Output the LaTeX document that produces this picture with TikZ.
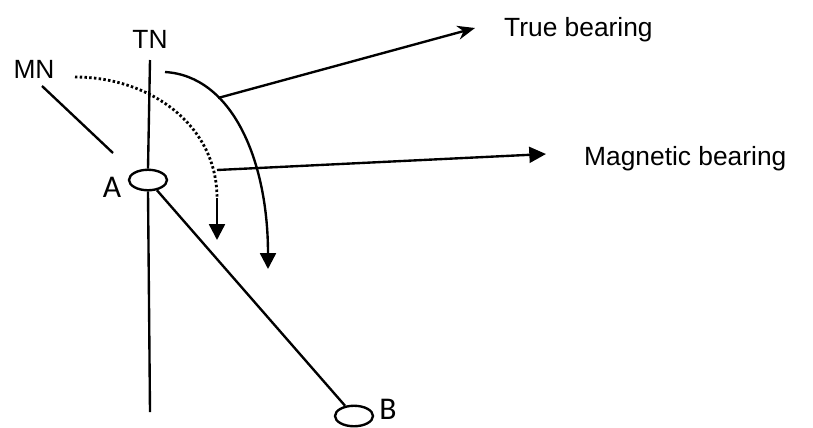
\documentclass[tikz,border=0pt]{standalone}
\usepackage{fontspec}
\setmainfont{Liberation Sans}
\newfontfamily\ptfont{Carlito}
\usetikzlibrary{arrows.meta,shapes.geometric}

\tikzset{
  lbl/.style={anchor=base,inner sep=0pt,font=\fontsize{15}{17}\selectfont},
  ptlbl/.style={anchor=base,inner sep=0pt,font=\ptfont\fontsize{18}{20}\selectfont},
  stn/.style={ellipse,draw,fill=white,minimum width=0.76cm,minimum height=0.41cm,inner sep=0pt},
  bigtip/.style={-{Triangle[length=9pt,width=9pt]}}
}

\begin{document}
\begin{tikzpicture}[x=0.02cm,y=-0.02cm,line width=1.35pt]
\useasboundingbox (0,0) rectangle (813,427);
% north lines and labels
\node[lbl] (tn) at (150,48) {TN};
\node[lbl] (mn) at (34,78) {MN};
\coordinate (tntop) at (150,60);
\coordinate (tnbot) at (150,412);
\coordinate (mntop) at (42,86);
\coordinate (mnbot) at (113,153);
\draw (mntop) -- (mnbot);
% stations
\node[stn] (a) at (148,180) {};
\node[stn] (b) at (354,416) {};
\node[ptlbl] (alab) at (112,197) {A};
\node[ptlbl] (blab) at (388,419) {B};
\draw (tntop) -- (a.north);
\draw (a.south) -- (tnbot);
\draw (a) -- (b);
% bearing arcs
\draw[line width=1.6pt,dash pattern=on 1.4pt off 1.3pt] (75,77) .. controls (150,77) and (217,125) .. (217,198);
\draw[bigtip] (217,198) -- (217,240);
\draw[bigtip] (165,72) .. controls (232,76) and (268,160) .. (268,269);
% labels
\node[lbl,anchor=base west] (true) at (503,36) {True bearing};
\node[lbl,anchor=base west] (mag) at (583,165) {Magnetic bearing};
\coordinate (tb) at (218,98);
\coordinate (tbtip) at (475,28);
\coordinate (mb) at (217,170);
\coordinate (mbtip) at (546,154);
\draw[-{Stealth[length=10pt,width=8pt]}] (tb) -- (tbtip);
\draw[-{Triangle[length=9.5pt,width=9pt]}] (mb) -- (mbtip);
\end{tikzpicture}
\end{document}
